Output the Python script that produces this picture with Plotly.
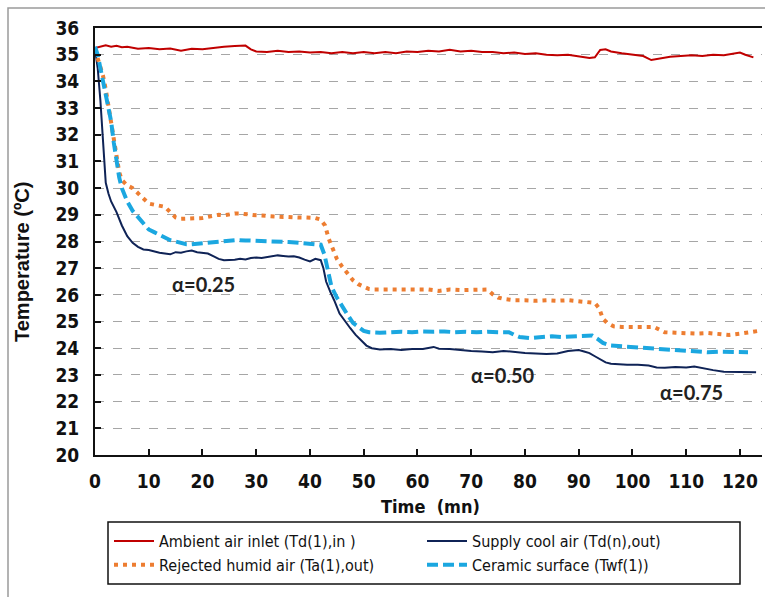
import plotly.graph_objects as go

# ---------------- data ----------------
t_ambient = [0, 1, 2, 3, 4, 5, 6, 8, 10, 12, 14, 16, 18, 20, 22, 24, 26, 28, 29, 30, 32, 34, 36, 38, 40,
             42, 44, 46, 48, 50, 52, 54, 56, 58, 60, 62, 64, 66, 68, 70, 72, 74, 76, 78, 80, 82, 84, 86,
             88, 90, 92, 93, 94, 95, 96, 98, 100, 102, 103.5, 105, 107, 109, 111, 113, 115, 117, 119,
             120, 121, 122.5]
T_ambient = [35.25, 35.3, 35.35, 35.3, 35.33, 35.28, 35.3, 35.22, 35.25, 35.2, 35.23, 35.15, 35.22, 35.2,
             35.26, 35.3, 35.33, 35.34, 35.2, 35.12, 35.1, 35.15, 35.1, 35.12, 35.08, 35.1, 35.05, 35.1,
             35.05, 35.1, 35.05, 35.1, 35.05, 35.12, 35.1, 35.15, 35.12, 35.18, 35.12, 35.15, 35.1, 35.1,
             35.05, 35.08, 35.03, 35.05, 35.0, 34.98, 35.0, 34.95, 34.88, 34.9, 35.18, 35.2, 35.12, 35.05,
             35.0, 34.95, 34.8, 34.85, 34.92, 34.95, 34.98, 34.95, 35.0, 34.98, 35.05, 35.08, 35.0, 34.9]

t_supply = [0, 0.5, 1, 1.5, 2, 2.5, 3, 4, 5, 6, 7, 8, 9, 10, 11, 12, 13, 14, 15, 16, 17, 18, 19, 20, 21,
            22, 23, 24, 25, 26, 27, 28, 29, 30, 31, 32, 33, 34, 35, 36, 37, 38, 39, 40, 41, 42, 42.5, 43,
            43.8, 44.5, 45.5, 46.5, 47.5, 48.5, 49.5, 50.5, 51.5, 53, 55, 57, 59, 61, 63, 64, 66, 68, 70,
            72, 74, 76, 78, 80, 82, 84, 86, 88, 89, 90, 91, 92, 93, 94, 95, 96, 97, 99, 101, 103, 104.5,
            106, 108, 110, 111.5, 113, 115, 117, 119, 121, 123]
T_supply = [35.2, 34.5, 33.3, 31.6, 30.2, 29.8, 29.5, 29.1, 28.6, 28.2, 27.95, 27.8, 27.7, 27.68, 27.62,
            27.58, 27.55, 27.52, 27.6, 27.58, 27.63, 27.66, 27.6, 27.58, 27.55, 27.45, 27.35, 27.3, 27.3,
            27.32, 27.35, 27.33, 27.38, 27.4, 27.38, 27.42, 27.45, 27.48, 27.46, 27.44, 27.45, 27.4,
            27.32, 27.25, 27.35, 27.3, 27.0, 26.5, 26.1, 25.8, 25.3, 25.0, 24.75, 24.5, 24.3, 24.1, 24.0,
            23.95, 23.97, 23.93, 23.97, 23.97, 24.05, 23.98, 23.97, 23.93, 23.9, 23.88, 23.85, 23.9,
            23.85, 23.82, 23.8, 23.78, 23.8, 23.9, 23.92, 23.93, 23.88, 23.82, 23.7, 23.58, 23.47, 23.42,
            23.4, 23.38, 23.38, 23.35, 23.28, 23.27, 23.3, 23.28, 23.32, 23.25, 23.18, 23.12, 23.12,
            23.12, 23.1]

t_rejected = [0, 0.5, 1, 1.5, 2, 2.5, 3, 3.5, 4, 4.5, 5, 6, 7, 8, 9, 10, 11, 12, 13, 14, 15, 16, 17, 18,
              19, 20, 21, 22, 23, 24, 25, 26, 27, 28, 29, 30, 31, 32, 33, 34, 35, 36, 37, 38, 39, 40, 41,
              42, 42.8, 43.5, 44.2, 45, 46, 47, 48, 49, 50, 51, 52, 54, 56, 58, 60, 62, 64, 66, 68, 70,
              72, 73, 74, 75, 76, 78, 80, 82, 84, 86, 88, 90, 92, 93, 93.8, 94.5, 95.3, 96.5, 98, 100,
              102, 104, 105, 106, 108, 110, 112, 114, 116, 118, 120, 122, 123.5]
T_rejected = [35.2, 34.9, 34.6, 34.2, 33.7, 33.1, 32.4, 31.8, 31.2, 30.6, 30.3, 30.1, 30.0, 29.8, 29.6,
              29.42, 29.38, 29.35, 29.3, 29.1, 28.9, 28.85, 28.85, 28.88, 28.85, 28.88, 28.92, 28.95,
              29.0, 28.98, 29.02, 29.05, 29.05, 29.02, 29.0, 28.98, 28.97, 28.95, 28.95, 28.93, 28.92,
              28.92, 28.9, 28.9, 28.9, 28.9, 28.88, 28.82, 28.6, 28.1, 27.7, 27.35, 27.05, 26.8, 26.55,
              26.4, 26.3, 26.22, 26.2, 26.2, 26.2, 26.2, 26.18, 26.2, 26.15, 26.2, 26.18, 26.2, 26.22,
              26.2, 26.02, 25.9, 25.85, 25.8, 25.8, 25.78, 25.8, 25.78, 25.8, 25.76, 25.75, 25.7, 25.5,
              25.1, 24.95, 24.82, 24.8, 24.8, 24.8, 24.8, 24.7, 24.6, 24.58, 24.55, 24.55, 24.57, 24.55,
              24.5, 24.55, 24.6, 24.65]

t_ceramic = [0, 0.5, 1, 1.5, 2, 2.5, 3, 3.5, 4, 4.5, 5, 6, 7, 8, 9, 10, 11, 12, 13, 14, 15, 16, 17, 18,
             19, 20, 22, 24, 26, 28, 30, 32, 34, 36, 38, 40, 41, 42, 42.7, 43.3, 44, 45, 46, 47, 48, 49,
             50, 51, 53, 55, 57, 59, 61, 63, 65, 67, 69, 71, 73, 75, 77, 78, 79, 81, 83, 85, 87, 89, 91,
             92.5, 93.5, 94.5, 96, 98, 100, 102, 104, 106, 108, 110, 112, 114, 116, 118, 120, 121.5]
T_ceramic = [35.3, 35.0, 34.5, 34.0, 33.5, 33.1, 32.5, 31.7, 31.0, 30.4, 30.0, 29.5, 29.15, 28.9, 28.65,
             28.45, 28.35, 28.25, 28.12, 28.05, 28.0, 27.95, 27.9, 27.9, 27.92, 27.95, 28.0, 28.02, 28.05,
             28.04, 28.03, 28.02, 28.0, 27.98, 27.95, 27.92, 27.9, 27.88, 27.5, 26.9, 26.3, 25.9, 25.55,
             25.25, 24.95, 24.78, 24.65, 24.6, 24.58, 24.6, 24.62, 24.6, 24.63, 24.62, 24.63, 24.6, 24.62,
             24.6, 24.62, 24.6, 24.6, 24.5, 24.42, 24.38, 24.42, 24.45, 24.42, 24.45, 24.48, 24.48, 24.35,
             24.2, 24.1, 24.07, 24.05, 24.02, 24.0, 23.98, 23.95, 23.9, 23.88, 23.85, 23.87, 23.85, 23.85,
             23.85]

series_names = ["Ambient air inlet (Td(1),in )", "Supply cool air (Td(n),out)",
                "Rejected humid air (Ta(1),out)", "Ceramic surface (Twf(1))"]

x_ticks = list(range(0, 121, 10))
y_ticks = list(range(20, 37, 1))

alpha_labels = ["α=0.25", "α=0.50", "α=0.75"]
alpha_x = [20.2, 76.0, 111.0]
alpha_y = [26.4, 23.0, 22.35]

# ---------------- figure ----------------
W, H = 765, 597
ML, MR, MT, MB = 95, 3, 28, 142
PW, PH = W - ML - MR, H - MT - MB

def px2paper_x(px):
    return (px - ML) / PW

def px2paper_y(py):
    return (H - MB - py) / PH

COND = "DejaVu Sans Condensed, DejaVu Sans, sans-serif"

fig = go.Figure()
fig.add_trace(go.Scatter(x=t_ambient, y=T_ambient, mode="lines", name=series_names[0],
                         line=dict(color="#C00000", width=2)))
fig.add_trace(go.Scatter(x=t_supply, y=T_supply, mode="lines", name=series_names[1],
                         line=dict(color="#0F2356", width=2)))
fig.add_trace(go.Scatter(x=t_rejected, y=T_rejected, mode="lines", name=series_names[2],
                         line=dict(color="#ED7D31", width=4, dash="4px,5px")))
fig.add_trace(go.Scatter(x=t_ceramic, y=T_ceramic, mode="lines", name=series_names[3],
                         line=dict(color="#1BA7E0", width=4, dash="11px,5px")))

for txt, ax_, ay_ in zip(alpha_labels, alpha_x, alpha_y):
    fig.add_annotation(x=ax_, y=ay_, text="<b>" + txt + "</b>", showarrow=False,
                       font=dict(family="Lato, Open Sans, sans-serif", size=20, color="#222222"))

# axis titles as annotations
fig.add_annotation(xref="paper", yref="paper", x=px2paper_x(430), y=px2paper_y(507),
                   text="<b>Time  (mn)</b>", showarrow=False, xanchor="center", yanchor="middle",
                   font=dict(family=COND, size=18, color="#111111"))
fig.add_annotation(xref="paper", yref="paper", x=px2paper_x(22), y=px2paper_y(262),
                   text="<b>Temperature (ºC)</b>", showarrow=False, textangle=-90,
                   xanchor="center", yanchor="middle",
                   font=dict(family="Liberation Sans, Arial, sans-serif", size=20, color="#111111"))

# outer grey frame
fig.add_shape(type="rect", xref="paper", yref="paper",
              x0=px2paper_x(8), x1=px2paper_x(790), y0=px2paper_y(640), y1=px2paper_y(8),
              line=dict(color="#9A9A9A", width=1.5), fillcolor="rgba(0,0,0,0)", layer="below")
# legend box
fig.add_shape(type="rect", xref="paper", yref="paper",
              x0=px2paper_x(108), x1=px2paper_x(740), y0=px2paper_y(584), y1=px2paper_y(522),
              line=dict(color="#111111", width=1.5), fillcolor="white", layer="below")

fig.update_layout(
    width=W, height=H,
    margin=dict(l=ML, r=MR, t=MT, b=MB, pad=0, autoexpand=False),
    paper_bgcolor="white", plot_bgcolor="white",
    showlegend=True,
    legend=dict(orientation="h", x=px2paper_x(109), y=px2paper_y(524),
                xanchor="left", yanchor="top",
                entrywidth=258, entrywidthmode="pixels", itemwidth=40,
                borderwidth=0, bgcolor="rgba(0,0,0,0)",
                font=dict(family=COND, size=16, color="#111111"),
                tracegroupgap=0, traceorder="normal"),
    xaxis=dict(range=[0, 124.1], tickvals=x_ticks, ticks="inside", ticklen=6, tickwidth=2,
               tickcolor="#111111", showline=True, linecolor="#111111", linewidth=2,
               mirror=True, showgrid=False, zeroline=False,
               tickfont=dict(family=COND, size=19, color="#111111", weight="bold"),
               ticklabelstandoff=8),
    yaxis=dict(range=[20, 36], tickvals=y_ticks, ticks="inside", ticklen=6, tickwidth=2,
               tickcolor="#111111", showline=True, linecolor="#111111", linewidth=2,
               showgrid=True, gridcolor="#A6A6A6", gridwidth=1, griddash="dash",
               zeroline=False,
               tickfont=dict(family=COND, size=19, color="#111111", weight="bold"),
               ticklabelstandoff=10),
)

fig.write_html("out.html")
